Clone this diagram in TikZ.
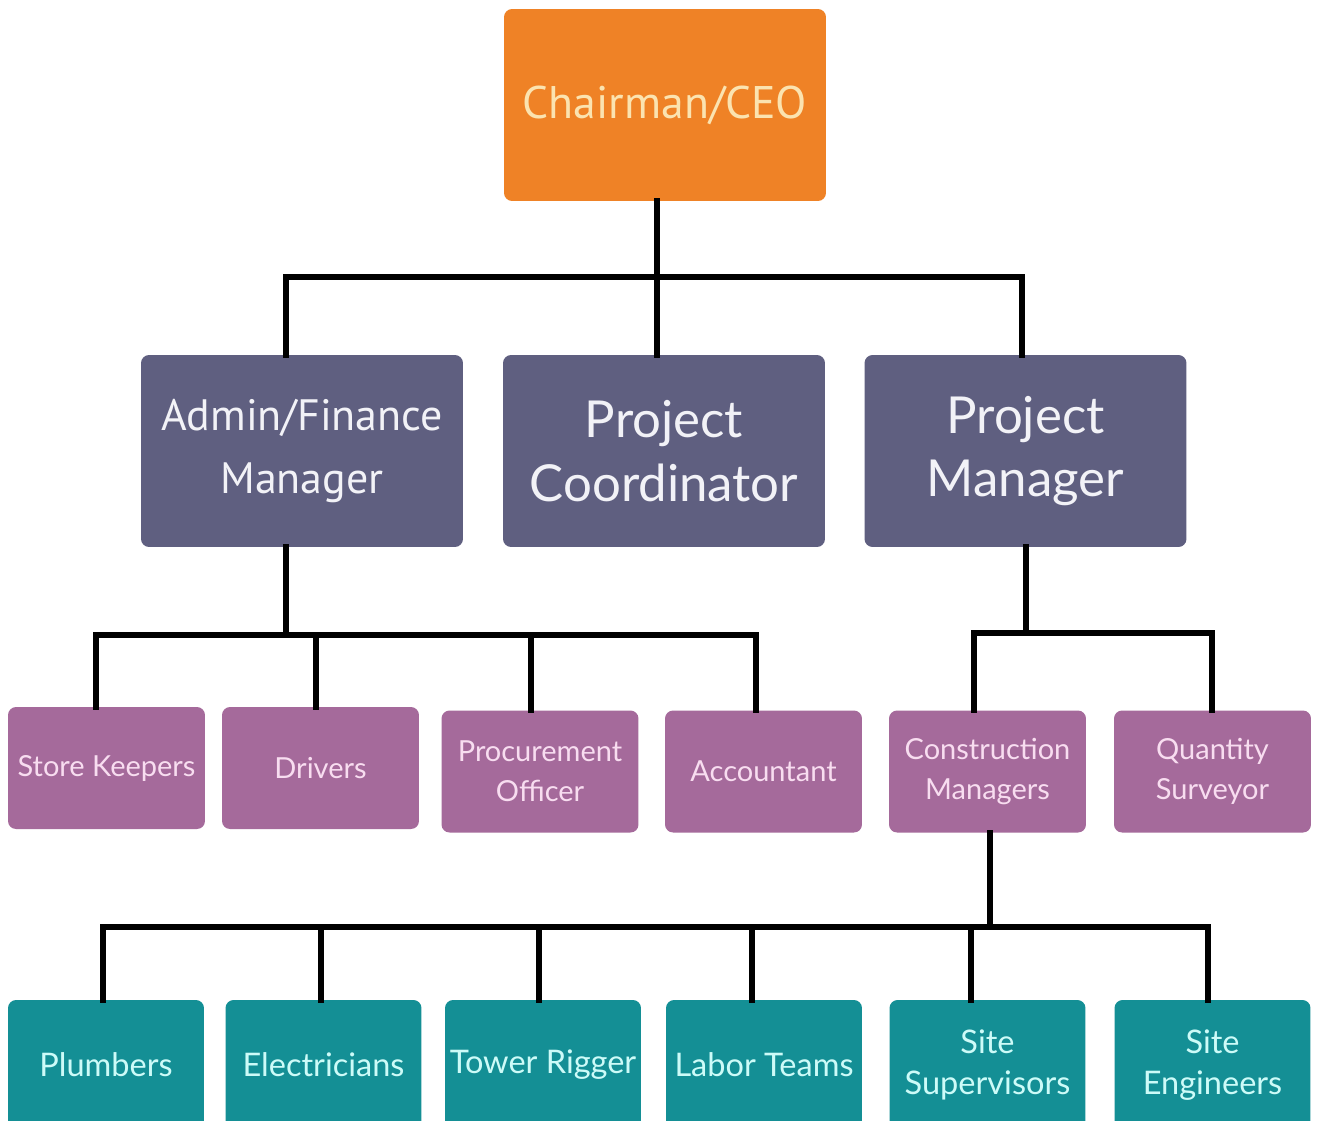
\documentclass[tikz,border=0pt]{standalone}
\usepackage{fontspec}
\setmainfont{Lato}
\newfontfamily\narrowfont{PT Sans}
\definecolor{ceoorange}{HTML}{EF8226}
\definecolor{ceotext}{HTML}{FBE3B0}
\definecolor{slate}{HTML}{5F5F80}
\definecolor{slatetext}{HTML}{F2F2F7}
\definecolor{mauve}{HTML}{A56A9B}
\definecolor{mauvetext}{HTML}{F8DDF0}
\definecolor{tealbox}{HTML}{148F95}
\definecolor{tealtext}{HTML}{CDFBF8}
\tikzset{
  basebox/.style={rounded corners=0.16cm, inner sep=0pt, align=center, draw=none},
  ceobox/.style={basebox, fill=ceoorange, text=ceotext, minimum width=6.44cm, minimum height=3.84cm, font=\narrowfont\fontsize{26}{32}\selectfont},
  midbox/.style={basebox, fill=slate, text=slatetext, minimum width=6.44cm, minimum height=3.84cm, font=\fontsize{29}{36}\selectfont},
  midboxn/.style={midbox, font=\narrowfont\fontsize{25}{36}\selectfont},
  lowbox/.style={basebox, fill=mauve, text=mauvetext, minimum width=3.94cm, minimum height=2.44cm, font=\fontsize{16.5}{23}\selectfont},
  botbox/.style={basebox, fill=tealbox, text=tealtext, minimum width=3.92cm, minimum height=2.6cm, font=\fontsize{18.5}{23}\selectfont},
  conn/.style={line width=3.3pt, draw=black, line cap=rect}
}
\begin{document}
\begin{tikzpicture}[x=0.02cm, y=-0.02cm]
\useasboundingbox (0,0) rectangle (1319,1120);
\fill[white] (0,0) rectangle (1319,1120);
% nodes
\node[ceobox] (ceo) at (665,105) {Chairman/CEO};
\node[midboxn] (admin) at (302,451) {Admin/Finance\\Manager};
\node[midbox] (coord) at (664,451) {Project\\Coordinator};
\node[midbox] (pm) at (1025.5,451) {Project\\Manager};
\node[lowbox] (store) at (106.5,768) {Store Keepers};
\node[lowbox] (drivers) at (320.5,768) {Drivers};
\node[lowbox] (proc) at (540,771.5) {Procurement\\Officer};
\node[lowbox] (acct) at (763.5,771.5) {Accountant};
\node[lowbox] (cons) at (987.5,771.5) {Construction\\Managers};
\node[lowbox] (qs) at (1212.5,771.5) {Quantity\\Surveyor};
\node[botbox] (plumb) at (106,1065) {Plumbers};
\node[botbox] (elec) at (323.5,1065) {Electricians};
\node[botbox] (tower) at (543,1065) {Tower Rigger};
\node[botbox] (labor) at (764,1065) {Labor Teams};
\node[botbox] (super) at (987.5,1065) {Site\\Supervisors};
\node[botbox] (eng) at (1212.5,1065) {Site\\Engineers};
% bus coordinates
\coordinate (b1) at (657,277);
\coordinate (b1a) at (286,277);
\coordinate (b1c) at (1022,277);
\coordinate (b2) at (286,635);
\coordinate (b2a) at (96,635);
\coordinate (b2b) at (316,635);
\coordinate (b2c) at (531,635);
\coordinate (b2d) at (756,635);
\coordinate (b3) at (1026,633);
\coordinate (b3a) at (974,633);
\coordinate (b3b) at (1212,633);
\coordinate (b4) at (990,927);
\coordinate (b4a) at (103,927);
\coordinate (b4b) at (321,927);
\coordinate (b4c) at (539,927);
\coordinate (b4d) at (752,927);
\coordinate (b4e) at (971,927);
\coordinate (b4f) at (1208,927);
% connectors level 1
\draw[conn] (b1 |- ceo.south) -- (b1);
\draw[conn] (b1a) -- (b1c);
\draw[conn] (b1a) -- (b1a |- admin.north);
\draw[conn] (b1) -- (b1 |- coord.north);
\draw[conn] (b1c) -- (b1c |- pm.north);
% level 2 admin
\draw[conn] (b2 |- admin.south) -- (b2);
\draw[conn] (b2a) -- (b2d);
\draw[conn] (b2a) -- (b2a |- store.north);
\draw[conn] (b2b) -- (b2b |- drivers.north);
\draw[conn] (b2c) -- (b2c |- proc.north);
\draw[conn] (b2d) -- (b2d |- acct.north);
% level 2 pm
\draw[conn] (b3 |- pm.south) -- (b3);
\draw[conn] (b3a) -- (b3b);
\draw[conn] (b3a) -- (b3a |- cons.north);
\draw[conn] (b3b) -- (b3b |- qs.north);
% level 3 construction
\draw[conn] (b4 |- cons.south) -- (b4);
\draw[conn] (b4a) -- (b4f);
\draw[conn] (b4a) -- (b4a |- plumb.north);
\draw[conn] (b4b) -- (b4b |- elec.north);
\draw[conn] (b4c) -- (b4c |- tower.north);
\draw[conn] (b4d) -- (b4d |- labor.north);
\draw[conn] (b4e) -- (b4e |- super.north);
\draw[conn] (b4f) -- (b4f |- eng.north);
\end{tikzpicture}
\end{document}
